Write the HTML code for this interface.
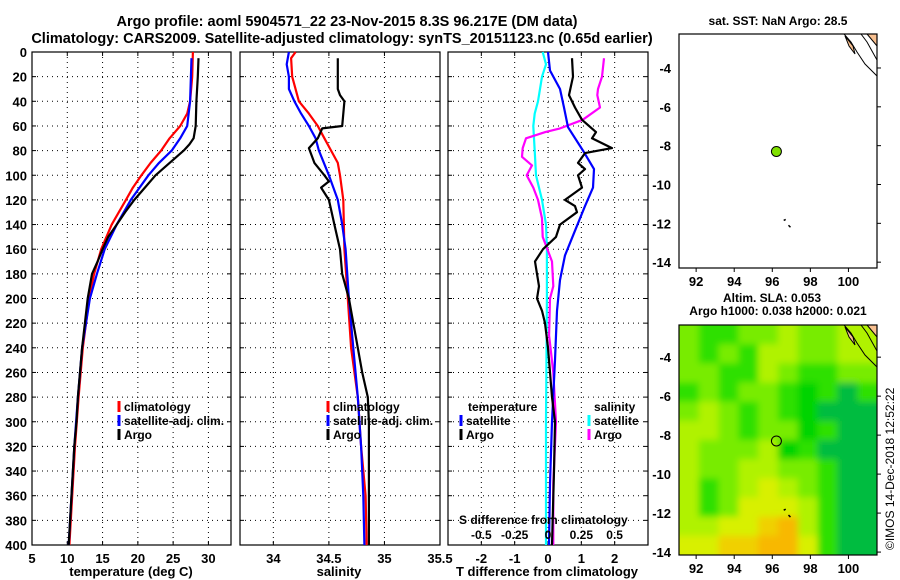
<!DOCTYPE html>
<html><head><meta charset="utf-8">
<style>
html,body{margin:0;padding:0;background:#fff;}
svg{display:block;font-family:"Liberation Sans",sans-serif;font-weight:bold;}
</style></head>
<body>
<svg id="chart" width="900" height="580" viewBox="0 0 900 580" xmlns="http://www.w3.org/2000/svg">
<text x="347" y="26" font-size="14.5" text-anchor="middle">Argo profile: aoml 5904571_22 23-Nov-2015 8.3S 96.217E (DM data)</text>
<text x="342" y="43" font-size="14.5" text-anchor="middle">Climatology: CARS2009. Satellite-adjusted climatology: synTS_20151123.nc (0.65d earlier)</text>
<text x="778" y="25" font-size="12" text-anchor="middle">sat. SST: NaN Argo: 28.5</text>
<text x="772" y="302" font-size="12" text-anchor="middle">Altim. SLA: 0.053</text>
<text x="778" y="315" font-size="12" text-anchor="middle">Argo h1000: 0.038 h2000: 0.021</text>
<text x="0" y="0" font-size="12" font-weight="normal" transform="translate(894,550) rotate(-90)">©IMOS 14-Dec-2018 12:52:22</text>
<g id="layer"></g>
</svg>
<script>
// ---- data ----
const depthTicks=[0,20,40,60,80,100,120,140,160,180,200,220,240,260,280,300,320,340,360,380,400];
const tempTicks=[5,10,15,20,25,30];
const salTicks=[34,34.5,35,35.5];
const tdiffTicks=[-2,-1,0,1,2];
const sdiffTicks=[-0.5,-0.25,0,0.25,0.5];
const sdiffLabels=["-0.5","-0.25","0","0.25","0.5"];

const tArgoDepth=[5,20,40,60,70,75,80,90,100,110,120,130,140,150,160,170,180,200,220,240,260,280,300,320,340,360,380,400];
const tArgoVal=[28.6,28.5,28.3,28.2,27.9,27.3,26.5,24.5,22.5,21.0,19.5,18.2,17.0,15.8,15.0,14.3,13.5,12.9,12.5,12.1,11.8,11.5,11.3,11.0,10.8,10.6,10.4,10.2];
const tClimDepth=[0,20,40,50,60,70,80,90,100,110,120,140,160,180,200,240,280,320,360,400];
const tClimVal=[27.8,27.7,27.4,27.0,26.0,24.5,23.3,21.8,20.5,19.3,18.3,16.3,14.8,13.8,13.1,12.2,11.6,11.1,10.7,10.3];
const tSatDepth=[5,40,60,70,80,90,100,120,140,160,180,200,240,280,320,360,400];
const tSatVal=[27.6,27.4,27.0,26.0,24.8,23.0,21.5,19.0,17.0,15.3,14.2,13.2,12.1,11.5,11.0,10.6,10.2];

const sArgoDepth=[5,30,35,40,60,62,70,78,90,100,105,110,120,140,160,180,200,220,240,260,280,300,320,360,400];
const sArgoVal=[34.58,34.58,34.6,34.64,34.62,34.44,34.4,34.32,34.37,34.46,34.5,34.43,34.5,34.55,34.6,34.62,34.68,34.72,34.76,34.8,34.85,34.86,34.86,34.86,34.86];
const sClimDepth=[0,5,20,40,50,60,70,80,90,100,120,160,200,240,280,320,360,400];
const sClimVal=[34.2,34.16,34.17,34.23,34.32,34.4,34.46,34.52,34.58,34.6,34.63,34.64,34.67,34.7,34.76,34.79,34.83,34.84];
const sSatDepth=[0,10,20,30,40,50,60,70,80,100,120,140,160,200,240,280,320,360,400];
const sSatVal=[34.14,34.12,34.14,34.14,34.19,34.25,34.32,34.38,34.41,34.5,34.58,34.62,34.65,34.68,34.72,34.76,34.79,34.81,34.82];

const dTSatDepth=[0,15,30,45,61,80,95,110,125,145,165,185,210,250,300,350,400];
const dTSatVal=[0,0.06,0.36,0.48,0.6,1.05,1.38,1.35,1.11,0.81,0.51,0.36,0.27,0.21,0.12,0.06,0.03];
const dTArgoDepth=[5,20,35,45,55,65,70,78,82,90,95,100,110,120,125,130,140,150,160,170,180,190,200,210,220,240,260,280,300,340,400];
const dTArgoVal=[0.72,0.75,0.63,0.81,1.02,1.44,1.32,1.92,1.11,0.9,1.11,0.9,1.02,0.51,0.81,0.87,0.36,0.24,-0.15,-0.39,-0.33,-0.27,-0.33,-0.18,-0.09,0,0.06,0.12,0.21,0.18,0.12];
const dSSatDepth=[0,10,20,40,50,60,80,100,120,140,160,200,300,400];
const dSSatVal=[-0.04,-0.015,-0.045,-0.075,-0.1,-0.11,-0.1,-0.09,-0.045,-0.015,-0.008,-0.008,-0.015,-0.015];
const dSArgoDepth=[5,20,30,35,45,55,62,65,70,78,85,92,100,110,120,135,150,170,190,200,230,260,300,350,400];
const dSArgoVal=[0.42,0.405,0.375,0.37,0.39,0.26,0.09,-0.02,-0.165,-0.19,-0.195,-0.12,-0.16,-0.11,-0.075,-0.045,-0.04,0.03,0.04,0.015,0.008,0.04,0.06,0.04,0.04];

const lonTicks=[92,94,96,98,100];
const latTicks=[-4,-6,-8,-10,-12,-14];
const argoLon=96.217, argoLat=-8.3;
const slaRows=["lggllyllyy","lglgyyllyy","llggylggll","glgllgGgtg","lylglgGttt","yylgllGgtt","ylllyGgttt","yllyyllgtt","yglyYylgtt","yglYYYygtt","yyYYoOygtt","YYooOOYgtt"];
const slaColors={G:"#00d400",g:"#2ee000",l:"#78ec00",y:"#b0f200",Y:"#d8f000",o:"#f0d000",O:"#f8b800",t:"#00bc40"};

// ---- helpers ----
const NS="http://www.w3.org/2000/svg";
const layer=document.getElementById('layer');
function mk(tag,attrs,parent){const e=document.createElementNS(NS,tag);for(const k in attrs)e.setAttribute(k,attrs[k]);(parent||layer).appendChild(e);return e;}
const Y0=52,Y1=545;
const yD=d=>Y0+d*(Y1-Y0)/400;

function panel(name,x0,x1,vmin,vmax,ticks,labels,gridTicks){
  const xs=v=>x0+(v-vmin)*(x1-x0)/(vmax-vmin);
  const g=mk('g',{});
  
  
  gridTicks.forEach(t=>{const l=mk('line',{x1:xs(t),x2:xs(t),y1:Y0,y2:Y1,stroke:'#000','stroke-width':1,'stroke-dasharray':'1,4'},g);});
  depthTicks.forEach(d=>{if(d>0&&d<400){const l=mk('line',{x1:x0,x2:x1,y1:yD(d),y2:yD(d),stroke:'#000','stroke-width':1,'stroke-dasharray':'1,4'},g);
    mk('line',{x1:x0,x2:x0+4,y1:yD(d),y2:yD(d),stroke:'#000'},g);mk('line',{x1:x1-4,x2:x1,y1:yD(d),y2:yD(d),stroke:'#000'},g);}});
  const r=mk('rect',{x:x0,y:Y0,width:x1-x0,height:Y1-Y0,fill:'none',stroke:'#000','stroke-width':1.2},g);
  
  ticks.forEach((t,i)=>{const tx=mk('text',{x:xs(t),y:563,'font-size':13,'text-anchor':'middle'},g);tx.textContent=labels[i];
    
    mk('line',{x1:xs(t),x2:xs(t),y1:Y1,y2:Y1-4,stroke:'#000'},g);mk('line',{x1:xs(t),x2:xs(t),y1:Y0,y2:Y0+4,stroke:'#000'},g);});
  return {xs,g};
}
function line(p,depths,vals,color,name){
  const pts=depths.map((d,i)=>p.xs(vals[i]).toFixed(1)+','+yD(d).toFixed(1)).join(' ');
  const pl=mk('polyline',{points:pts,fill:'none',stroke:color,'stroke-width':2.2,'stroke-linejoin':'round'},p.g);
  
}
function legend(g,x,y,color,label,name){
  const l=mk('line',{x1:x,x2:x,y1:y-10,y2:y+1,stroke:color,'stroke-width':3},g);
  const t=mk('text',{x:x+5,y:y,'font-size':12},g);t.textContent=label;
  
  
}
function txt(x,y,s,size,anchor,name){const t=mk('text',{x,y,'font-size':size,'text-anchor':anchor||'start'});t.textContent=s;
  return t;}

depthTicks.forEach(d=>{txt(27,yD(d)+5,String(d),13,'end','y-tick-label');});

const p1=panel('temperature-panel',32,231,5,33.2,tempTicks,tempTicks.map(String),[10,15,20,25,30]);
line(p1,tClimDepth,tClimVal,'#f00','temp-climatology-line');
line(p1,tSatDepth,tSatVal,'#00f','temp-satellite-line');
line(p1,tArgoDepth,tArgoVal,'#000','temp-argo-line');
legend(p1.g,119,411,'#f00','climatology','legend-climatology');
legend(p1.g,119,425,'#00f','satellite-adj. clim.','legend-satellite');
legend(p1.g,119,439,'#000','Argo','legend-argo');
txt(131,576,'temperature (deg C)',13,'middle','x-axis-title-temperature');

const p2=panel('salinity-panel',240,440,33.7,35.5,salTicks,['34','34.5','35','35.5'],[34,34.5,35]);
line(p2,sClimDepth,sClimVal,'#f00','sal-climatology-line');
line(p2,sSatDepth,sSatVal,'#00f','sal-satellite-line');
line(p2,sArgoDepth,sArgoVal,'#000','sal-argo-line');
legend(p2.g,328,411,'#f00','climatology','legend-climatology');
legend(p2.g,328,425,'#00f','satellite-adj. clim.','legend-satellite');
legend(p2.g,328,439,'#000','Argo','legend-argo');
txt(339,576,'salinity',13,'middle','x-axis-title-salinity');

const p3=panel('difference-panel',448,648,-3,3,tdiffTicks,tdiffTicks.map(String),[-2,-1,0,1,2]);
const xsS=v=>548+v*133.3;
const p3s={xs:xsS,g:p3.g};
line(p3s,dSSatDepth,dSSatVal,'#0ff','sdiff-satellite-line');
line(p3s,dSArgoDepth,dSArgoVal,'#f0f','sdiff-argo-line');
line(p3,dTSatDepth,dTSatVal,'#00f','tdiff-satellite-line');
line(p3,dTArgoDepth,dTArgoVal,'#000','tdiff-argo-line');
txt(468,411,'temperature',12,'start','legend-temperature-heading');
legend(p3.g,461,425,'#00f','satellite','legend-t-satellite');
legend(p3.g,461,439,'#000','Argo','legend-t-argo');
txt(594,411,'salinity',12,'start','legend-salinity-heading');
legend(p3.g,589,425,'#0ff','satellite','legend-s-satellite');
legend(p3.g,589,439,'#f0f','Argo','legend-s-argo');
txt(459,524,'S difference from climatology',12,'start','s-axis-title');
sdiffTicks.forEach((t,i)=>txt(xsS(t),539,sdiffLabels[i],12,'middle','s-tick-label'));
txt(547,576,'T difference from climatology',13,'middle','x-axis-title-tdiff');

function map(name,top,bot,latTop,latBot,lonL,lonR){
  const x0=679,x1=877;
  const xs=v=>x0+(v-lonL)*(x1-x0)/(lonR-lonL);
  const ys=v=>top+(latTop-v)*(bot-top)/(latTop-latBot);
  const g=mk('g',{});
  return {x0,x1,xs,ys,g,top,bot};
}
function mapFrame(m){
  const r=mk('rect',{x:m.x0,y:m.top,width:m.x1-m.x0,height:m.bot-m.top,fill:'none',stroke:'#000','stroke-width':1.2},m.g);
  
  lonTicks.forEach(t=>{mk('line',{x1:m.xs(t),x2:m.xs(t),y1:m.bot,y2:m.bot+4,stroke:'#000'},m.g);
    const tx=txt(m.xs(t),m.bot+18,String(t),13,'middle','map-lon-label');m.g.appendChild(tx);});
  latTicks.forEach(t=>{mk('line',{x1:m.x1,x2:m.x1+4,y1:m.ys(t),y2:m.ys(t),stroke:'#000'},m.g);
    const tx=txt(m.x0-8,m.ys(t)+5,String(t),13,'end','map-lat-label');m.g.appendChild(tx);});
}
function coast(m){
  const p=mk('polygon',{points:`${m.x1-33},${m.top} ${m.x1-26},${m.top+8} ${m.x1-20},${m.top+18} ${m.x1-12},${m.top+30} ${m.x1-4},${m.top+38} ${m.x1},${m.top+42} ${m.x1},${m.top+26} ${m.x1-10},${m.top+8} ${m.x1-16},${m.top}`,fill:'none',stroke:'#000','stroke-width':1},m.g);
  
  mk('polygon',{points:`${m.x1-32},${m.top+2} ${m.x1-24},${m.top+12} ${m.x1-22},${m.top+20} ${m.x1-28},${m.top+12}`,fill:'#f8c090',stroke:'#000'},m.g);
  mk('polygon',{points:`${m.x1-10},${m.top} ${m.x1},${m.top} ${m.x1},${m.top+12}`,fill:'#f8c090',stroke:'#000'},m.g);
  mk('path',{d:`M${m.xs(96.6)},${m.ys(-11.85)} l2,-1 M${m.xs(96.85)},${m.ys(-12.1)} l2,2`,stroke:'#000','stroke-width':1.5},m.g);
}
const m1=map('sst-map',34,268,-2.25,-14.3,91.1,101.5);
coast(m1);mapFrame(m1);
const dot=mk('circle',{cx:m1.xs(argoLon),cy:m1.ys(argoLat),r:5,fill:'#80e000',stroke:'#000','stroke-width':1},m1.g);


const m2=map('sla-map',325,555,-2.35,-14.15,91.1,101.5);
const defs=mk('defs',{});
const cp=mk('clipPath',{id:'mclip'},defs);mk('rect',{x:679,y:325,width:198,height:230},cp);
const flt=mk('filter',{id:'bl',x:'-5%',y:'-5%',width:'110%',height:'110%'},defs);mk('feGaussianBlur',{stdDeviation:3.5},flt);
const hg=mk('g',{'clip-path':'url(#mclip)'},m2.g);
const inner=mk('g',{filter:'url(#bl)'},hg);
const cw=198/10,ch=230/12;
slaRows.forEach((row,r)=>{[...row].forEach((c,k)=>{
  const rc=mk('rect',{x:679+k*cw-(k==0?10:0),y:325+r*ch-(r==0?10:0),width:cw+1+(k==0||k==9?10:0),height:ch+1+(r==0||r==11?10:0),fill:slaColors[c]},inner);
  
});});
coast(m2);mapFrame(m2);
const c2=mk('circle',{cx:m2.xs(argoLon),cy:m2.ys(argoLat),r:5,fill:'none',stroke:'#000','stroke-width':1},m2.g);

</script>
</body></html>
